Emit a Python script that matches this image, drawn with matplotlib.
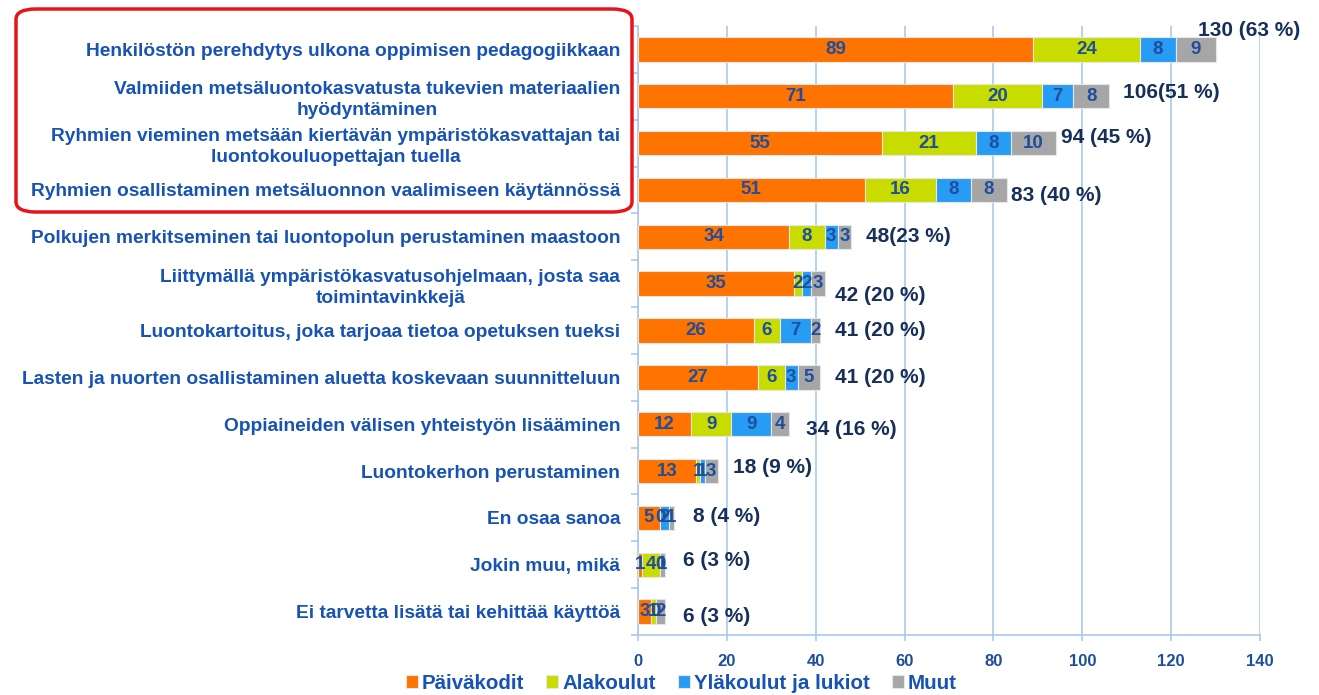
import matplotlib
matplotlib.use("Agg")
import matplotlib.pyplot as plt
from matplotlib.patches import FancyBboxPatch
import numpy as np

plt.rcParams['font.family'] = ['Liberation Sans', 'DejaVu Sans']

categories = [
    "Henkilöstön perehdytys ulkona oppimisen pedagogiikkaan",
    "Valmiiden metsäluontokasvatusta tukevien materiaalien\nhyödyntäminen",
    "Ryhmien vieminen metsään kiertävän ympäristökasvattajan tai\nluontokouluopettajan tuella",
    "Ryhmien osallistaminen metsäluonnon vaalimiseen käytännössä",
    "Polkujen merkitseminen tai luontopolun perustaminen maastoon",
    "Liittymällä ympäristökasvatusohjelmaan, josta saa\ntoimintavinkkejä",
    "Luontokartoitus, joka tarjoaa tietoa opetuksen tueksi",
    "Lasten ja nuorten osallistaminen aluetta koskevaan suunnitteluun",
    "Oppiaineiden välisen yhteistyön lisääminen",
    "Luontokerhon perustaminen",
    "En osaa sanoa",
    "Jokin muu, mikä",
    "Ei tarvetta lisätä tai kehittää käyttöä",
]
series_names = ["Päiväkodit", "Alakoulut", "Yläkoulut ja lukiot", "Muut"]
paivakodit = [89, 71, 55, 51, 34, 35, 26, 27, 12, 13, 5, 1, 3]
alakoulut = [24, 20, 21, 16, 8, 2, 6, 6, 9, 1, 0, 4, 1]
ylakoulut = [8, 7, 8, 8, 3, 2, 7, 3, 9, 1, 2, 0, 0]
muut = [9, 8, 10, 8, 3, 3, 2, 5, 4, 3, 1, 1, 2]
total_labels = ["130 (63 %)", "106(51 %)", "94 (45 %)", "83 (40 %)", "48(23 %)",
                "42 (20 %)", "41 (20 %)", "41 (20 %)", "34 (16 %)", "18 (9 %)",
                "8 (4 %)", "6 (3 %)", "6 (3 %)"]
xticks = [0, 20, 40, 60, 80, 100, 120, 140]

# placement of total labels (x in data units, y offset in category units)
total_pos_x = [126.0, 109.2, 95.2, 84.0, 51.3, 44.3, 44.3, 44.3, 37.8, 21.4, 12.4, 10.1, 10.1]
total_dy = [-0.41, -0.07, -0.13, 0.11, 0.0, 0.26, 0.0, 0.0, 0.12, -0.08, -0.04, -0.1, 0.1]

colors = ["#FF7300", "#C8DC00", "#279CF5", "#A6A6A6"]
grid_col = "#A9C8EE"
val_col = "#1F4E9C"
cat_col = "#1753B5"
tot_col = "#17305A"

fig = plt.figure(figsize=(13.19, 6.95), dpi=100)
ax = fig.add_axes([0.4837, 0.0863, 0.4716, 0.8763])

series = [paivakodit, alakoulut, ylakoulut, muut]
n = len(categories)
y = np.arange(n)
left = np.zeros(n)
for vals, col, name in zip(series, colors, series_names):
    v = np.array(vals, dtype=float)
    ax.barh(y, v, left=left, height=0.52, color=col, edgecolor="#E6E6E6",
            linewidth=0.8, label=name, zorder=3)
    for i in range(n):
        ax.text(left[i] + v[i] / 2, y[i], f"{int(v[i])}", ha="center", va="center",
                fontsize=13.5, fontweight="bold", color=val_col, zorder=4)
    left += v

for i in range(n):
    ax.text(total_pos_x[i], y[i] + total_dy[i], total_labels[i], ha="left", va="center",
            fontsize=15, fontweight="bold", color=tot_col, zorder=5, clip_on=False)

ax.set_ylim(n - 0.5, -0.5)
ax.set_xlim(0, 140)
ax.set_xticks(xticks)
ax.set_xticklabels([str(t) for t in xticks], fontsize=12, fontweight="bold", color=val_col)
ax.set_yticks(y)
ax.set_yticklabels(categories, fontsize=13.8, fontweight="bold", color=cat_col,
                   multialignment="center", linespacing=1.3)
ax.tick_params(axis="y", length=0, pad=12.7)
ax.set_yticks(np.arange(n + 1) - 0.5, minor=True)
ax.tick_params(axis="y", which="minor", length=5, color=grid_col, width=1.2)
ax.tick_params(axis="x", length=4, color=grid_col, width=1.2, pad=10)
ax.grid(axis="x", color=grid_col, linewidth=1.2, zorder=0)
for s in ["top", "right"]:
    ax.spines[s].set_visible(False)
for s in ["left", "bottom"]:
    ax.spines[s].set_color(grid_col)
    ax.spines[s].set_linewidth(1.2)

leg = fig.legend(loc="lower center", bbox_to_anchor=(0.5165, -0.024), ncol=4, frameon=False,
                 prop={"size": 14.8, "weight": "bold"}, handlelength=0.6, handleheight=0.6,
                 handletextpad=0.2, columnspacing=1.05)
for t in leg.get_texts():
    t.set_color(cat_col)

box = FancyBboxPatch((16 / 1319, 1 - 212 / 695), (632 - 16) / 1319, (212 - 9) / 695,
                     boxstyle="round,pad=0,rounding_size=0.015", transform=fig.transFigure,
                     fill=False, edgecolor="#E8141B", linewidth=2.5, zorder=10)
fig.patches.append(box)

fig.savefig("out.png", dpi=100)
